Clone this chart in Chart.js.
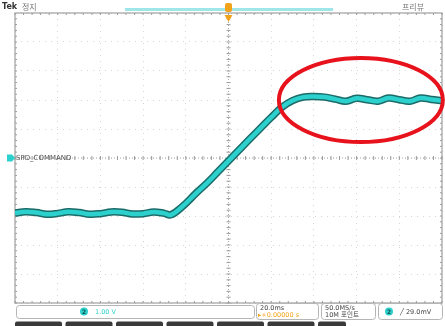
<!DOCTYPE html>
<html>
<head>
<meta charset="utf-8">
<script src="https://cdn.jsdelivr.net/npm/chart.js@4/dist/chart.umd.min.js"></script>
<style>
  html, body { margin: 0; padding: 0; background: #fff; }
  #scope { display: block; }
</style>
</head>
<body>
<canvas id="scope" width="445" height="326"></canvas>
<script>
// CH2 capture, 20 ms/div, 1 V/div, trigger at t = 0
const timeMs = [-100, -95, -90, -85, -80, -75, -70, -65, -60, -55, -50, -45, -40, -35, -30, -27,
  -22, -15, -10, -5, 0, 5, 10, 15, 20, 25, 30, 35, 40, 45, 50, 55, 60, 65, 70, 75, 80, 85, 90, 95, 100];
const ch2Volts = [-1.90, -1.85, -1.88, -1.94, -1.91, -1.85, -1.88, -1.94, -1.92, -1.86, -1.87, -1.93, -1.92, -1.86, -1.91, -1.96,
  -1.70, -1.20, -0.86, -0.48, -0.10, 0.28, 0.66, 1.03, 1.40, 1.75, 1.98, 2.10, 2.12, 2.10, 2.03, 1.96, 2.06, 2.01, 1.96, 2.07, 2.01, 1.96, 2.07, 2.02, 1.98];
const timeTicks = [-100, -80, -60, -40, -20, 0, 20, 40, 60, 80, 100];
const voltTicks = [-5, -4, -3, -2, -1, 0, 1, 2, 3, 4, 5];

const channelLabel = 'SPD_COMMAND';
const statusText = 'Tek 정지';
const modeText = '프리뷰';
const scaleText = '1.00 V';
const timebaseText = '20.0ms';
const positionText = '+0.00000 s';
const rateText = '50.0MS/s';
const recordText = '10M 포인트';
const triggerText = '29.0mV';

const tracePoints = timeMs.map((t, i) => ({ x: t, y: ch2Volts[i] }));

const CYAN = '#2cd0cc';
const ORANGE = '#f2a31c';

function roundBox(ctx, x, y, w, h, r) {
  ctx.beginPath();
  ctx.moveTo(x + r, y);
  ctx.arcTo(x + w, y, x + w, y + h, r);
  ctx.arcTo(x + w, y + h, x, y + h, r);
  ctx.arcTo(x, y + h, x, y, r);
  ctx.arcTo(x, y, x + w, y, r);
  ctx.closePath();
}

function chBadge(ctx, x, y) {
  ctx.fillStyle = CYAN;
  ctx.beginPath();
  ctx.arc(x, y, 4, 0, Math.PI * 2);
  ctx.fill();
  ctx.fillStyle = '#0d4d4c';
  ctx.font = 'bold 6px "DejaVu Sans"';
  ctx.textAlign = 'center';
  ctx.textBaseline = 'middle';
  ctx.fillText('2', x, y + 0.5);
}

const scopeOverlay = {
  id: 'scopeOverlay',
  beforeDatasetsDraw(chart) {
    const { ctx, chartArea: a, scales: { x, y } } = chart;
    const cx = x.getPixelForValue(0);
    const cy = y.getPixelForValue(0);
    ctx.save();
    // center crosshair, dotted with minor ticks
    ctx.strokeStyle = '#a8a8a8';
    ctx.lineWidth = 1;
    ctx.setLineDash([1, 2]);
    ctx.beginPath();
    ctx.moveTo(a.left, cy); ctx.lineTo(a.right, cy);
    ctx.moveTo(cx, a.top); ctx.lineTo(cx, a.bottom);
    ctx.stroke();
    ctx.setLineDash([]);
    ctx.strokeStyle = '#9a9a9a';
    ctx.beginPath();
    for (let t = -100; t <= 100; t += 4) {
      const px = x.getPixelForValue(t);
      ctx.moveTo(px, cy - 2); ctx.lineTo(px, cy + 2);
      ctx.moveTo(px, a.top); ctx.lineTo(px, a.top + 2);
      ctx.moveTo(px, a.bottom); ctx.lineTo(px, a.bottom - 2);
    }
    for (let v = -5; v <= 5; v += 0.2) {
      const py = y.getPixelForValue(v);
      ctx.moveTo(cx - 2, py); ctx.lineTo(cx + 2, py);
      ctx.moveTo(a.left, py); ctx.lineTo(a.left + 2, py);
      ctx.moveTo(a.right, py); ctx.lineTo(a.right - 2, py);
    }
    ctx.stroke();
    // graticule frame
    ctx.strokeStyle = '#a0a0a0';
    ctx.lineWidth = 1.2;
    ctx.strokeRect(a.left, a.top, a.right - a.left, a.bottom - a.top);
    ctx.restore();
  },
  afterDraw(chart) {
    const { ctx, chartArea: a, scales: { x, y } } = chart;
    const cx = x.getPixelForValue(0);
    const cy = y.getPixelForValue(0);
    ctx.save();

    // header
    ctx.fillStyle = '#333';
    ctx.font = 'bold 8px "DejaVu Sans", "Noto Sans CJK KR"';
    ctx.textBaseline = 'middle';
    ctx.textAlign = 'left';
    ctx.fillText('Tek', 2, 7);
    ctx.fillStyle = '#777';
    ctx.font = '8px "Noto Sans CJK KR"';
    ctx.fillText(statusText.slice(4), 22, 7);
    ctx.fillText(modeText, 402, 7);

    // record window bar
    ctx.strokeStyle = '#9fe6e8';
    ctx.lineWidth = 3;
    ctx.beginPath();
    ctx.moveTo(125, 9.5); ctx.lineTo(333, 9.5);
    ctx.stroke();

    // trigger position marker
    ctx.fillStyle = ORANGE;
    roundBox(ctx, cx - 3.5, 3, 7, 9, 2);
    ctx.fill();
    ctx.beginPath();
    ctx.moveTo(cx - 4, 15); ctx.lineTo(cx + 4, 15); ctx.lineTo(cx, 22); ctx.closePath();
    ctx.fill();

    // channel ground marker and label
    ctx.fillStyle = CYAN;
    ctx.beginPath();
    ctx.moveTo(7, cy - 3.5); ctx.lineTo(12, cy - 3.5); ctx.lineTo(15, cy); ctx.lineTo(12, cy + 3.5); ctx.lineTo(7, cy + 3.5);
    ctx.closePath();
    ctx.fill();
    ctx.fillStyle = '#555';
    ctx.font = '7px "DejaVu Sans"';
    ctx.textAlign = 'left';
    ctx.fillText(channelLabel, 16, cy + 0.5);

    // highlight ellipse around the plateau
    const ex = x.getPixelForValue(62);
    const ey = y.getPixelForValue(2.0);
    const rx = x.getPixelForValue(100.4) - ex;
    const ry = y.getPixelForValue(0.55) - ey;
    ctx.strokeStyle = '#e8121c';
    ctx.lineWidth = 4;
    ctx.beginPath();
    ctx.ellipse(ex, ey, rx, ry, 0, 0, Math.PI * 2);
    ctx.stroke();

    // readout boxes
    ctx.strokeStyle = '#b5b5b5';
    ctx.lineWidth = 1;
    roundBox(ctx, 16.5, 305.5, 238, 13, 3); ctx.stroke();
    roundBox(ctx, 256.5, 303.5, 62, 16, 3); ctx.stroke();
    roundBox(ctx, 321.5, 303.5, 54, 16, 3); ctx.stroke();
    roundBox(ctx, 378.5, 303.5, 64, 16, 3); ctx.stroke();

    chBadge(ctx, 84, 311.5);
    ctx.fillStyle = CYAN;
    ctx.font = '6.5px "DejaVu Sans"';
    ctx.textAlign = 'left';
    ctx.textBaseline = 'middle';
    ctx.fillText(scaleText, 95, 312);

    ctx.fillStyle = '#444';
    ctx.fillText(timebaseText, 260, 308);
    ctx.fillStyle = ORANGE;
    ctx.fillText('\u25B8' + positionText, 258, 315.5);

    ctx.fillStyle = '#444';
    ctx.fillText(rateText, 325, 308);
    ctx.font = '6.5px "DejaVu Sans", "Noto Sans CJK KR"';
    ctx.fillText(recordText, 325, 315.5);

    chBadge(ctx, 389, 311.5);
    ctx.fillStyle = '#444';
    ctx.font = '6.5px "DejaVu Sans"';
    ctx.textAlign = 'left';
    ctx.fillText('\u2571 ' + triggerText, 400, 312);

    // menu tabs along the bottom
    ctx.fillStyle = '#3a3a3a';
    for (let i = 0; i < 7; i++) {
      const tx = 15 + i * 50.5;
      const w = i === 6 ? 28 : 47;
      roundBox(ctx, tx, 321.5, w, 8, 2);
      ctx.fill();
    }
    ctx.restore();
  }
};

new Chart(document.getElementById('scope'), {
  type: 'line',
  data: {
    datasets: [
      {
        // bright core of the trace
        data: tracePoints,
        borderColor: CYAN,
        borderWidth: 4.5,
        pointRadius: 0,
        tension: 0.4,
        fill: false,
        order: 1
      },
      {
        // dark persistence halo under it
        data: tracePoints,
        borderColor: '#1b6b69',
        borderWidth: 7.5,
        pointRadius: 0,
        tension: 0.4,
        fill: false,
        order: 2
      }
    ]
  },
  options: {
    responsive: false,
    animation: false,
    layout: { padding: { left: 15, right: 3, top: 13, bottom: 23 } },
    plugins: { legend: { display: false }, tooltip: { enabled: false } },
    scales: {
      x: {
        type: 'linear',
        min: timeTicks[0],
        max: timeTicks[timeTicks.length - 1],
        afterBuildTicks: (s) => { s.ticks = timeTicks.map(v => ({ value: v })); },
        ticks: { display: false },
        grid: { color: '#d6d6d6', drawTicks: false, lineWidth: 1 },
        border: { display: false, dash: [1, 5] }
      },
      y: {
        type: 'linear',
        min: voltTicks[0],
        max: voltTicks[voltTicks.length - 1],
        afterBuildTicks: (s) => { s.ticks = voltTicks.map(v => ({ value: v })); },
        ticks: { display: false },
        grid: { color: '#d6d6d6', drawTicks: false, lineWidth: 1 },
        border: { display: false, dash: [1, 5] }
      }
    }
  },
  plugins: [scopeOverlay]
});
</script>
</body>
</html>
